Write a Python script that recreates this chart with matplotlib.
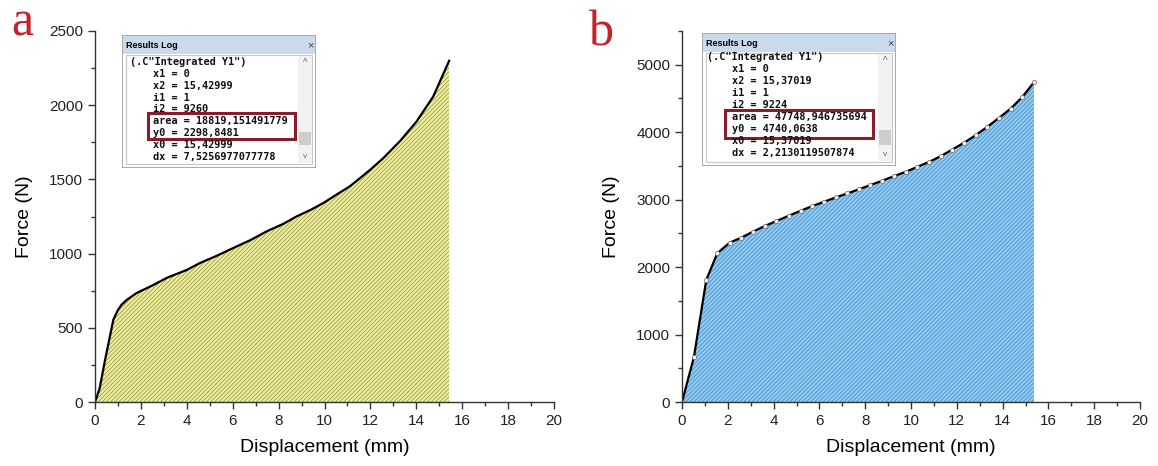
import numpy as np
import matplotlib
matplotlib.use("Agg")
import matplotlib.pyplot as plt
from matplotlib.patches import Rectangle
from matplotlib.ticker import MultipleLocator

# ---- data ----
disp_a = [0, 0.2, 0.44, 0.8, 1.0, 1.16, 1.4, 1.82, 2.5, 3.12, 4.0, 4.58, 5.3, 6.03,
          6.8, 7.48, 8.2, 8.79, 9.4, 9.95, 10.5, 11.1, 11.6, 12.0, 12.56, 13.3,
          14.01, 14.74, 15.43]
force_a = [0, 90, 285, 555, 620, 656, 690, 735, 785, 836, 890, 937, 985, 1038,
           1093, 1150, 1200, 1251, 1295, 1341, 1395, 1453, 1515, 1566, 1643, 1760,
           1890, 2059, 2299]

disp_b = [0, 0.52, 1.06, 1.54, 2.08, 2.59, 3.1, 3.61, 4.12, 4.66, 5.18, 5.69, 6.2,
          6.71, 7.22, 7.71, 8.22, 8.73, 9.26, 9.77, 10.28, 10.79, 11.3, 11.8,
          12.31, 12.82, 13.33, 13.84, 14.35, 14.86, 15.37]
force_b = [0, 666, 1810, 2204, 2362, 2436, 2525, 2608, 2682, 2761, 2835, 2904, 2968,
           3032, 3092, 3151, 3215, 3279, 3348, 3412, 3486, 3560, 3644, 3743, 3841,
           3954, 4078, 4211, 4349, 4522, 4740]

log_a = ['(.C"Integrated Y1")', 'x1 = 0', 'x2 = 15,42999', 'i1 = 1', 'i2 = 9260',
         'area = 18819,151491779', 'y0 = 2298,8481', 'x0 = 15,42999',
         'dx = 7,5256977077778']
log_b = ['(.C"Integrated Y1")', 'x1 = 0', 'x2 = 15,37019', 'i1 = 1', 'i2 = 9224',
         'area = 47748,946735694', 'y0 = 4740,0638', 'x0 = 15,37019',
         'dx = 2,2130119507874']

W, H = 1158, 466
plt.rcParams['font.family'] = ['Liberation Sans', 'DejaVu Sans']
plt.rcParams['hatch.linewidth'] = 0.6
fig = plt.figure(figsize=(W / 100, H / 100), dpi=100)


def px_axes(x0, y0, x1, y1):
    return fig.add_axes([x0 / W, 1 - y1 / H, (x1 - x0) / W, (y1 - y0) / H])


def style_axes(ax, ymax, ymajor):
    ax.set_xlim(0, 20)
    ax.set_ylim(0, ymax)
    ax.xaxis.set_major_locator(MultipleLocator(2))
    ax.xaxis.set_minor_locator(MultipleLocator(1))
    ax.yaxis.set_major_locator(MultipleLocator(ymajor))
    ax.yaxis.set_minor_locator(MultipleLocator(ymajor / 2))
    for s in ['top', 'right']:
        ax.spines[s].set_visible(False)
    for s in ['left', 'bottom']:
        ax.spines[s].set_color('#333333')
        ax.spines[s].set_linewidth(1.0)
    ax.tick_params(which='major', direction='out', length=5, width=1,
                   color='#333333', labelsize=11, labelcolor='#222222')
    ax.tick_params(which='minor', direction='out', length=3, width=1, color='#333333')
    ax.set_xlabel('Displacement (mm)', fontsize=14, labelpad=8)
    ax.set_ylabel('Force (N)', fontsize=14, labelpad=12)


def results_log(x0, y0, lines, first, step, xa, xb, red, thumb):
    w, h = 194, 133
    ax = px_axes(x0, y0, x0 + w, y0 + h)
    ax.set_xlim(0, w)
    ax.set_ylim(h, 0)
    ax.axis('off')
    ax.add_patch(Rectangle((0, 0), w, h, facecolor='white', edgecolor='#9a9a9a', lw=1.2))
    ax.add_patch(Rectangle((1, 1), w - 2, 18, facecolor='#cbd9ec', edgecolor='none'))
    ax.text(4, 10, 'Results Log', fontsize=6.5, fontweight='bold', va='center')
    ax.text(w - 6, 10, '×', fontsize=8, va='center', ha='center', color='#444444')
    ax.add_patch(Rectangle((4, 20), w - 8, h - 24, facecolor='none', edgecolor='#c8c8c8', lw=0.8))
    # scrollbar
    ax.add_patch(Rectangle((w - 18, 21), 14, h - 26, facecolor='#f2f2f2', edgecolor='none'))
    ax.add_patch(Rectangle((w - 17, thumb[0]), 12, thumb[1], facecolor='#cdcdcd', edgecolor='none'))
    ax.text(w - 11, 28, '^', fontsize=7, ha='center', va='center', color='#666666')
    ax.text(w - 11, h - 12, 'v', fontsize=6, ha='center', va='center', color='#666666')
    for i, s in enumerate(lines):
        ax.text(xa if i == 0 else xb, first + i * step, s, family='DejaVu Sans Mono',
                fontsize=7.4, fontweight='bold', va='center', color='#111111')
    ax.add_patch(Rectangle((red[0], red[1]), red[2] - red[0], red[3] - red[1],
                           facecolor='none', edgecolor='#8b1c2c', lw=2.2))


# panel a
ax1 = px_axes(95, 31, 554, 402)
ax1.fill_between(disp_a, force_a, 0, facecolor='#f0f0a0', edgecolor='#9c9c48',
                 hatch='////////', linewidth=0)
ax1.plot(disp_a, force_a, color='black', lw=1.6)
style_axes(ax1, 2500, 500)

# panel b
ax2 = px_axes(682, 31, 1140, 402)
ax2.fill_between(disp_b, force_b, 0, facecolor='#92cdf6', edgecolor='#4a8cc2',
                 hatch='////////', linewidth=0)
ax2.plot(disp_b, force_b, color='black', lw=1.6, marker='o', ms=3,
         mfc='white', mec='#777777', mew=0.6)
style_axes(ax2, 5500, 1000)

results_log(122, 35, log_a, 27.3, 11.8, 8, 31, (26, 78, 173, 104), (97, 13))
results_log(702, 33, log_b, 23.7, 12.0, 5, 30, (23, 77, 171, 105), (97, 15))

fig.text(22 / W, 1 - 36 / H, 'a', fontsize=36, family='Liberation Serif',
         color='#c8202a', ha='center', va='baseline')
fig.text(601 / W, 1 - 45 / H, 'b', fontsize=36, family='Liberation Serif',
         color='#c8202a', ha='center', va='baseline')

fig.savefig('out.png', dpi=100)
